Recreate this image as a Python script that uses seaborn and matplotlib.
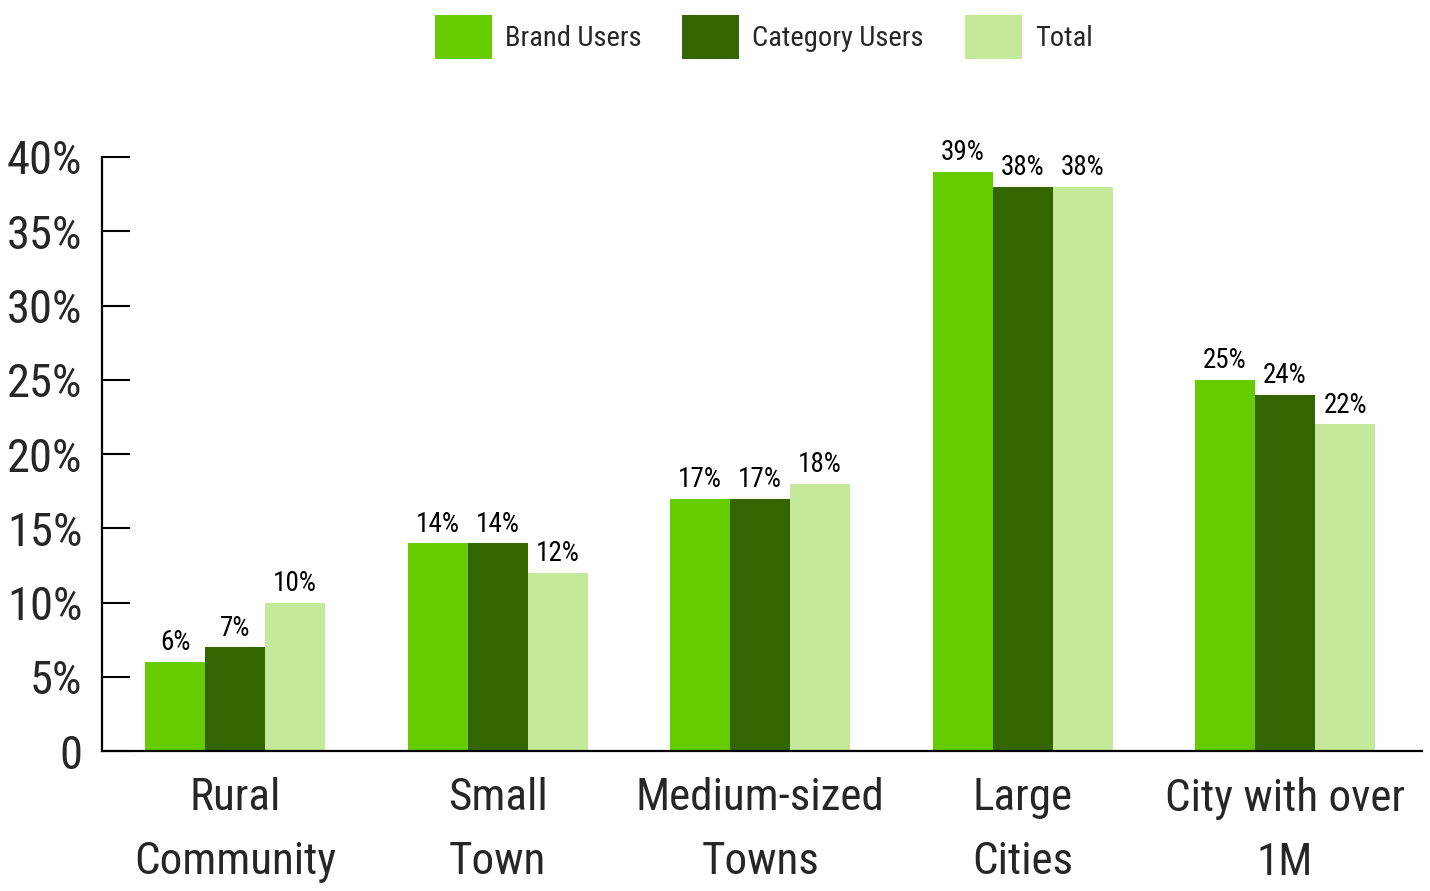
import matplotlib
matplotlib.use("Agg")
import matplotlib.pyplot as plt
from matplotlib import font_manager
import seaborn as sns
import pandas as pd

categories = ["Rural\nCommunity", "Small\nTown", "Medium-sized\nTowns", "Large\nCities", "City with over\n1M"]
series_names = ["Brand Users", "Category Users", "Total"]
brand_users = [6, 14, 17, 39, 25]
category_users = [7, 14, 17, 38, 24]
total = [10, 12, 18, 38, 22]
y_ticks = [0, 5, 10, 15, 20, 25, 30, 35, 40]
y_tick_labels = ["0", "5%", "10%", "15%", "20%", "25%", "30%", "35%", "40%"]
colors = ["#66CC00", "#336600", "#C5E99B"]

sns.set_theme(style="white")

installed = {f.name for f in font_manager.fontManager.ttflist}
family = [f for f in ["Liberation Sans Narrow", "DejaVu Sans Condensed", "Roboto Condensed"] if f in installed]
plt.rcParams["font.family"] = family + ["DejaVu Sans"]

df = pd.DataFrame({
    "category": categories * 3,
    "series": [s for s in series_names for _ in categories],
    "value": brand_users + category_users + total,
})

fig = plt.figure(figsize=(14.3, 8.91), dpi=100)
ax = fig.add_axes([0.0713, 0.1571, 0.9231, 0.6667])

sns.barplot(data=df, x="category", y="value", hue="series", order=categories,
            hue_order=series_names, palette=colors, width=0.686, saturation=1,
            linewidth=0, ax=ax)

for container in ax.containers:
    ax.bar_label(container, labels=[f"{v:g}%" for v in container.datavalues],
                 padding=4, fontsize=19.5, color="black")

ax.set_ylim(0, 40)
ax.set_xlim(-0.5075, 4.5215)
ax.set_yticks(y_ticks)
ax.set_yticklabels(y_tick_labels)
ax.set_xlabel("")
ax.set_ylabel("")

for side in ["top", "right"]:
    ax.spines[side].set_visible(False)
for side in ["left", "bottom"]:
    ax.spines[side].set_color("black")
    ax.spines[side].set_linewidth(1.6)

ax.tick_params(axis="y", direction="in", length=20, width=1.5, color="black",
               pad=14, labelsize=33.5, left=True)
ax.tick_params(axis="x", length=0, pad=19, labelsize=32.5)
for lbl in ax.get_xticklabels():
    lbl.set_linespacing(1.65)
ax.grid(False)

handles, labels = ax.get_legend_handles_labels()
ax.legend_.remove()
fig.legend(handles, labels, loc="center", bbox_to_anchor=(0.534, 0.958), ncol=3,
           frameon=False, fontsize=20.5, handlelength=2.0, handleheight=2.0,
           handletextpad=0.45, columnspacing=1.45)

fig.savefig("out.png", dpi=100)
